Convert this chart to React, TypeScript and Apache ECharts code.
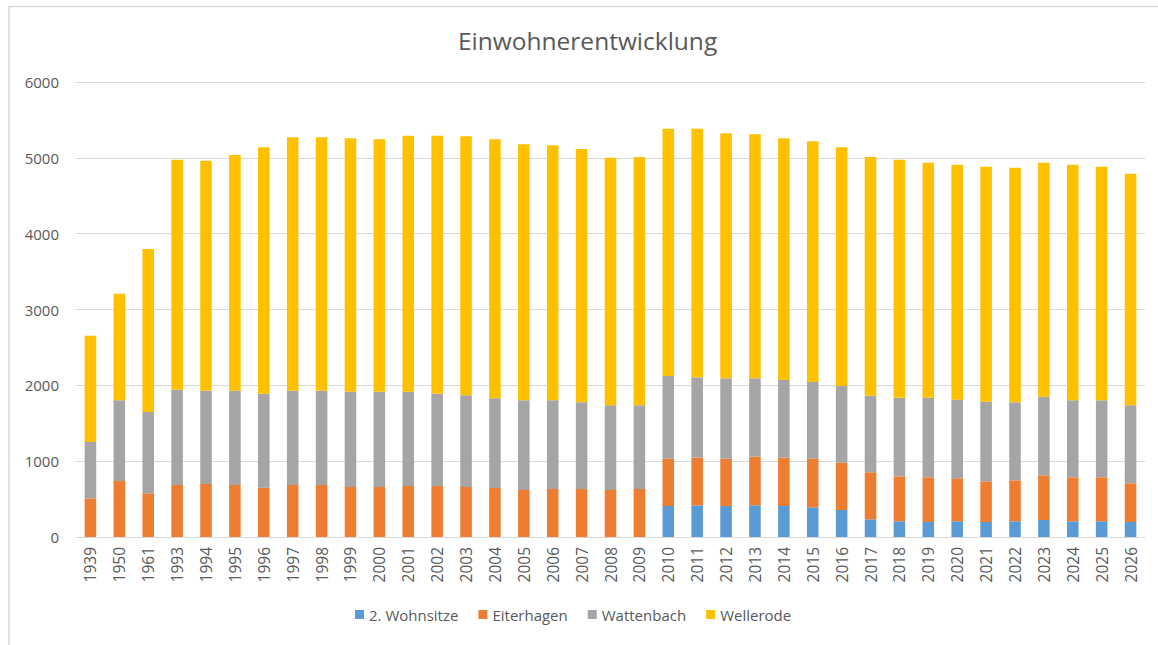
import React, { useEffect, useRef } from "react";
import * as echarts from "echarts";

const years = ["1939","1950","1961","1993","1994","1995","1996","1997","1998","1999","2000","2001","2002","2003","2004","2005","2006","2007","2008","2009","2010","2011","2012","2013","2014","2015","2016","2017","2018","2019","2020","2021","2022","2023","2024","2025","2026"];

const wohnsitze = [0,0,0,0,0,0,0,0,0,0,0,0,0,0,0,0,0,0,0,0,409,418,409,418,409,391,356,233,207,198,207,198,207,224,207,207,198];
const eiterhagen = [510,738,576,686,699,686,651,686,686,659,659,673,673,659,646,620,633,633,620,633,624,628,624,641,637,642,624,620,593,589,567,536,540,589,580,580,510];
const wattenbach = [743,1064,1072,1257,1231,1244,1239,1244,1244,1257,1257,1243,1217,1209,1183,1182,1169,1143,1116,1103,1090,1059,1059,1033,1024,1011,1011,1011,1037,1050,1037,1051,1029,1038,1015,1015,1028];
const wellerode = [1402,1407,2150,3033,3033,3107,3248,3340,3340,3341,3328,3376,3402,3416,3415,3376,3363,3340,3266,3275,3262,3280,3231,3218,3187,3174,3147,3147,3139,3099,3099,3099,3094,3085,3108,3082,3055];

const seriesNames = ["2. Wohnsitze", "Eiterhagen", "Wattenbach", "Wellerode"];
const seriesColors = ["#5B9BD5", "#ED7D31", "#A5A5A5", "#FFC000"];
const seriesData = [wohnsitze, eiterhagen, wattenbach, wellerode];

const FONT = "'Open Sans', sans-serif";
const TEXT = "#595959";

export default function App() {
  const ref = useRef<HTMLDivElement>(null);
  useEffect(() => {
    if (!ref.current) return;
    const chart = echarts.init(ref.current, null, { renderer: "svg" });
    chart.setOption({
      animation: false,
      backgroundColor: "#ffffff",
      textStyle: { fontFamily: FONT },
      title: {
        text: "Einwohnerentwicklung",
        left: 453,
        top: 23,
        textStyle: { fontFamily: FONT, fontSize: 24.5, fontWeight: "normal", color: TEXT },
      },
      legend: {
        bottom: 18,
        left: 350,
        itemWidth: 9,
        itemHeight: 9,
        itemGap: 20,
        icon: "rect",
        textStyle: { fontFamily: FONT, fontSize: 15, color: TEXT },
        data: seriesNames,
      },
      graphic: [
        {
          type: "rect",
          shape: { x: 9, y: 6.5, width: 1200, height: 700 },
          style: { fill: "none", stroke: "#d9d9d9", lineWidth: 1.5 },
          silent: true,
        },
      ],
      grid: { left: 76, right: 13, top: 82, bottom: 108, containLabel: false },
      xAxis: {
        type: "category",
        data: years,
        axisTick: { show: false },
        axisLine: { lineStyle: { color: "#d9d9d9", width: 1 } },
        axisLabel: { rotate: 90, interval: 0, margin: 10, fontFamily: FONT, fontSize: 15.5, color: TEXT },
      },
      yAxis: {
        type: "value",
        min: 0,
        max: 6000,
        interval: 1000,
        axisLine: { show: false },
        axisTick: { show: false },
        splitLine: { lineStyle: { color: "#d9d9d9", width: 1 } },
        axisLabel: {
          margin: 17,
          fontFamily: FONT,
          fontSize: 15,
          color: TEXT,
          formatter: (v: number) => String(v),
        },
      },
      series: seriesNames.map((name, i) => ({
        name,
        type: "bar",
        stack: "total",
        barWidth: "40%",
        itemStyle: { color: seriesColors[i] },
        data: seriesData[i],
      })),
    });
    return () => chart.dispose();
  }, []);
  return <div ref={ref} style={{ position: "fixed", left: 0, top: 0, width: 1158, height: 645 }} />;
}
